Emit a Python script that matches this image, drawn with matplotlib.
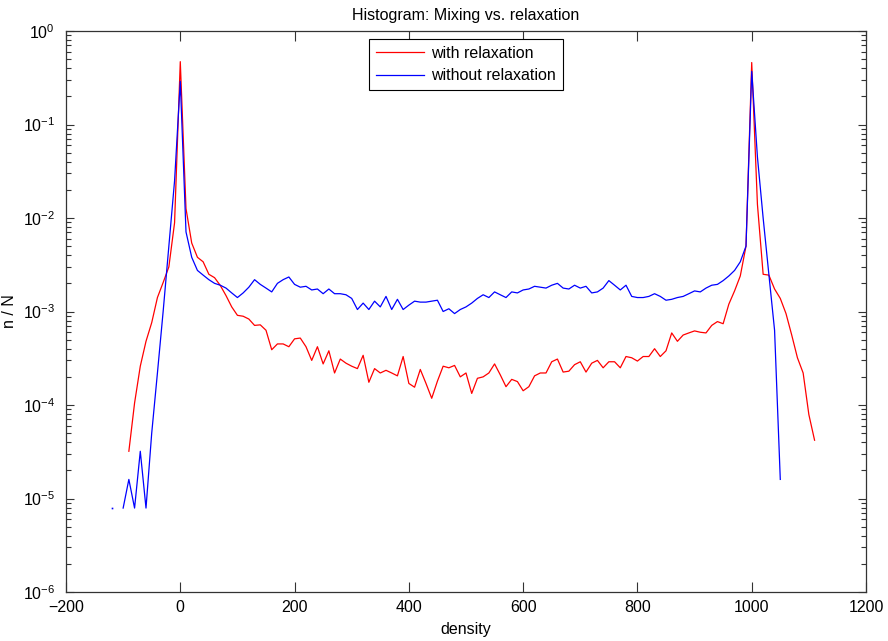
import numpy as np
import matplotlib
matplotlib.use('Agg')
import matplotlib.pyplot as plt
from matplotlib.ticker import LogLocator, FixedLocator

plt.rcParams['font.family'] = ['Liberation Sans', 'DejaVu Sans']
plt.rcParams['mathtext.default'] = 'regular'

# histogram bin centres (density), step 10
x_with = np.arange(-90, 1120, 10)
x_without = np.arange(-120, 1060, 10)

# n/N, with relaxation (red)
with_relax = [
    3.2e-5, 1.05e-4, 2.6e-4, 4.8e-4, 7.6e-4, 1.41e-3, 2.04e-3, 3.0e-3, 8.9e-3, 0.47,      # -90 .. 0
    1.26e-2, 5.4e-3, 3.8e-3, 3.4e-3, 2.5e-3, 2.3e-3, 1.9e-3, 1.48e-3, 1.12e-3, 9.1e-4,    # 10 .. 100
    8.9e-4, 8.3e-4, 7.1e-4, 7.2e-4, 6.3e-4, 3.9e-4, 4.5e-4, 4.5e-4, 4.2e-4, 5.1e-4,       # 110 .. 200
    5.2e-4, 4.2e-4, 3.0e-4, 4.2e-4, 2.75e-4, 3.8e-4, 2.2e-4, 3.1e-4, 2.8e-4, 2.6e-4,      # 210 .. 300
    2.45e-4, 3.4e-4, 1.75e-4, 2.45e-4, 2.2e-4, 2.35e-4, 2.2e-4, 2.05e-4, 3.3e-4, 1.7e-4,  # 310 .. 400
    1.55e-4, 2.4e-4, 1.7e-4, 1.18e-4, 1.8e-4, 2.6e-4, 2.5e-4, 2.65e-4, 2.0e-4, 2.2e-4,   # 410 .. 500
    1.33e-4, 1.93e-4, 2.0e-4, 2.2e-4, 2.75e-4, 2.1e-4, 1.57e-4, 1.88e-4, 1.78e-4, 1.42e-4, # 510 .. 600
    1.57e-4, 2.05e-4, 2.2e-4, 2.2e-4, 2.9e-4, 3.1e-4, 2.25e-4, 2.3e-4, 2.7e-4, 2.9e-4,   # 610 .. 700
    2.25e-4, 2.8e-4, 3.0e-4, 2.5e-4, 2.9e-4, 2.9e-4, 2.5e-4, 3.3e-4, 3.2e-4, 2.95e-4,    # 710 .. 800
    3.3e-4, 3.3e-4, 4.0e-4, 3.3e-4, 3.8e-4, 5.9e-4, 4.8e-4, 5.6e-4, 5.9e-4, 6.2e-4,      # 810 .. 900
    6.0e-4, 5.9e-4, 7.1e-4, 7.8e-4, 7.4e-4, 1.2e-3, 1.66e-3, 2.4e-3, 5.0e-3, 0.46,       # 910 .. 1000
    1.4e-2, 2.5e-3, 2.45e-3, 1.74e-3, 1.38e-3, 9.5e-4, 5.6e-4, 3.2e-4, 2.2e-4, 7.9e-5,   # 1010 .. 1100
    4.2e-5,                                                                              # 1110
]

# n/N, without relaxation (blue); nan = empty bin
without_relax = [
    7.9e-6, np.nan, 7.9e-6, 1.6e-5, 7.9e-6, 3.2e-5, 7.9e-6, 5.0e-5, 2.2e-4, 1.0e-3,     # -120 .. -30
    5.0e-3, 2.5e-2, 0.29, 7.1e-3, 3.8e-3, 2.75e-3, 2.45e-3, 2.19e-3, 2.0e-3, 1.91e-3,   # -20 .. 70
    1.78e-3, 1.58e-3, 1.41e-3, 1.58e-3, 1.82e-3, 2.19e-3, 1.95e-3, 1.78e-3, 1.62e-3, 2.0e-3,  # 80 .. 170
    2.19e-3, 2.34e-3, 1.95e-3, 1.82e-3, 1.86e-3, 1.70e-3, 1.74e-3, 1.55e-3, 1.74e-3, 1.55e-3, # 180 .. 270
    1.55e-3, 1.51e-3, 1.38e-3, 1.05e-3, 1.23e-3, 1.05e-3, 1.29e-3, 1.12e-3, 1.45e-3, 1.05e-3, # 280 .. 370
    1.35e-3, 1.05e-3, 1.17e-3, 1.29e-3, 1.26e-3, 1.26e-3, 1.29e-3, 1.32e-3, 1.0e-3, 1.07e-3,  # 380 .. 470
    9.5e-4, 1.05e-3, 1.12e-3, 1.23e-3, 1.38e-3, 1.51e-3, 1.41e-3, 1.62e-3, 1.51e-3, 1.41e-3,  # 480 .. 570
    1.62e-3, 1.58e-3, 1.70e-3, 1.74e-3, 1.86e-3, 1.82e-3, 1.78e-3, 1.91e-3, 2.0e-3, 1.78e-3,  # 580 .. 670
    1.74e-3, 1.91e-3, 1.78e-3, 1.86e-3, 1.58e-3, 1.62e-3, 1.78e-3, 2.14e-3, 1.91e-3, 1.70e-3, # 680 .. 770
    1.91e-3, 1.45e-3, 1.41e-3, 1.41e-3, 1.45e-3, 1.55e-3, 1.45e-3, 1.32e-3, 1.35e-3, 1.41e-3, # 780 .. 870
    1.45e-3, 1.55e-3, 1.66e-3, 1.62e-3, 1.78e-3, 1.91e-3, 1.95e-3, 2.14e-3, 2.4e-3, 2.75e-3,  # 880 .. 970
    3.4e-3, 5.0e-3, 0.37, 4.5e-2, 1.0e-2, 2.5e-3, 6.3e-4, 1.6e-5,                          # 980 .. 1050
]

labels = ['with relaxation', 'without relaxation']
xticks = [-200, 0, 200, 400, 600, 800, 1000, 1200]

with_relax = np.array(with_relax)
without_relax = np.array(without_relax)
assert len(with_relax) == len(x_with)
assert len(without_relax) == len(x_without)

fig = plt.figure(figsize=(8.88, 6.41), dpi=100)
ax = fig.add_axes([66 / 888, 1 - 592 / 641, 800 / 888, 561 / 641])

ax.plot(x_with, with_relax, color='#ff0000', lw=0.9, label=labels[0])
ax.plot(x_without, without_relax, color='#0000ff', lw=0.9, label=labels[1])

# isolated bins (neighbours empty) show up only as a dot
iso = np.zeros(len(without_relax), dtype=bool)
for i in range(len(without_relax)):
    left = without_relax[i - 1] if i > 0 else np.nan
    right = without_relax[i + 1] if i < len(without_relax) - 1 else np.nan
    iso[i] = np.isfinite(without_relax[i]) and np.isnan(left) and np.isnan(right)
ax.plot(x_without[iso], without_relax[iso], 's', color='#0000ff', ms=1.2, mew=0)

ax.set_yscale('log')
ax.set_xlim(-200, 1200)
ax.set_ylim(1e-6, 1)
ax.xaxis.set_major_locator(FixedLocator(xticks))
ax.yaxis.set_major_locator(LogLocator(base=10, numticks=10))
ax.yaxis.set_minor_locator(LogLocator(base=10, subs=np.arange(2, 10), numticks=10))

ax.tick_params(which='both', direction='in', top=True, right=True,
               labelsize=11.5, color='#333333', width=0.8)
ax.tick_params(axis='x', which='major', length=7, pad=6)
ax.tick_params(axis='y', which='major', length=6, pad=8)
ax.tick_params(axis='y', which='minor', length=3.5)
for s in ax.spines.values():
    s.set_linewidth(0.9)
    s.set_color('#333333')

ax.set_title('Histogram: Mixing vs. relaxation', fontsize=11.5, pad=8)
ax.set_xlabel('density', fontsize=11.5, labelpad=5)
ax.set_ylabel('n / N', fontsize=11.5, labelpad=4)

leg = ax.legend(loc='upper center', bbox_to_anchor=(0.5, 0.986), borderaxespad=0,
                fontsize=11.5, fancybox=False, framealpha=1, edgecolor='black',
                handlelength=3.0, handletextpad=0.4, labelspacing=0.45,
                borderpad=0.45)
leg.get_frame().set_linewidth(0.8)

fig.savefig('out.png', dpi=100)
